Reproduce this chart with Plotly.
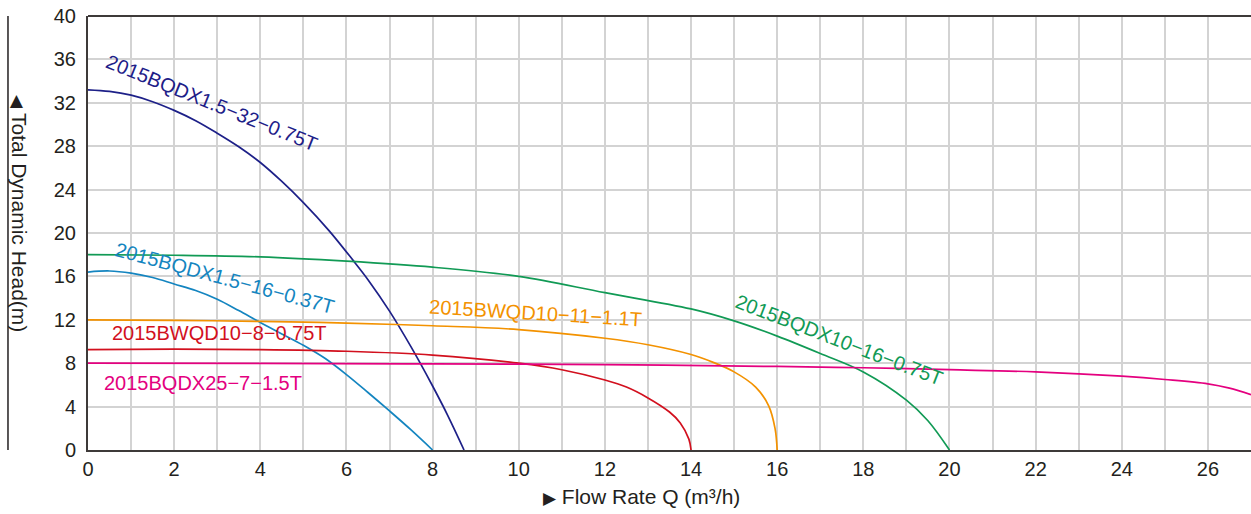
import plotly.graph_objects as go

# ---- data ----
q_bqdx15_32 = [0, 0.5, 1, 1.5, 2, 2.5, 3, 3.5, 4, 4.5, 5, 5.6, 6.15, 6.5, 7.0, 7.5, 8.0, 8.35, 8.73]
h_bqdx15_32 = [33.2, 33.05, 32.7, 32.1, 31.3, 30.35, 29.2, 27.95, 26.5, 24.75, 22.8, 20.2, 17.5, 15.7, 12.8, 9.5, 5.9, 3.2, 0]

q_bqdx15_16 = [0, 0.5, 1, 1.5, 2, 2.5, 3, 3.5, 4, 4.5, 5, 5.5, 6, 6.5, 7, 7.5, 8]
h_bqdx15_16 = [16.4, 16.5, 16.3, 15.9, 15.3, 14.7, 13.9, 12.85, 11.75, 10.7, 9.65, 8.45, 6.95, 5.3, 3.6, 1.85, 0]

q_bqdx10_16 = [0, 2, 4, 6, 8, 10, 12, 14, 15, 16, 17, 18, 19, 19.5, 20]
h_bqdx10_16 = [18.0, 17.95, 17.8, 17.4, 16.85, 16.0, 14.5, 13.0, 11.9, 10.5, 8.9, 7.2, 4.6, 2.7, 0]

q_bwqd10_11 = [0, 2, 4, 6, 8, 10, 12, 13, 14, 14.5, 15, 15.5, 15.8, 15.95, 16]
h_bwqd10_11 = [12.0, 11.95, 11.85, 11.7, 11.45, 11.1, 10.3, 9.7, 8.8, 8.1, 7.2, 5.8, 4.1, 2.0, 0]

q_bwqd10_8 = [0, 2, 4, 6, 8, 10, 11, 12, 12.5, 13, 13.5, 13.75, 13.95, 14]
h_bwqd10_8 = [9.25, 9.3, 9.25, 9.1, 8.75, 8.0, 7.4, 6.45, 5.8, 4.8, 3.5, 2.5, 1.0, 0]

q_bqdx25_7 = [0, 4, 8, 12, 16, 18, 20, 22, 24, 25, 26, 26.5, 27]
h_bqdx25_7 = [8.0, 7.98, 7.93, 7.87, 7.7, 7.58, 7.4, 7.2, 6.8, 6.5, 6.1, 5.7, 5.1]

names = ["2015BQDX1.5−32−0.75T", "2015BQDX1.5−16−0.37T", "2015BQDX10−16−0.75T",
         "2015BWQD10−11−1.1T", "2015BWQD10−8−0.75T", "2015BQDX25−7−1.5T"]
colors = ["#1d2088", "#1485c0", "#119a55", "#f39200", "#d2101e", "#e4007f"]

x_ticks = list(range(0, 27, 2))
y_ticks = list(range(0, 41, 4))

series = [(q_bqdx15_32, h_bqdx15_32), (q_bqdx15_16, h_bqdx15_16), (q_bqdx10_16, h_bqdx10_16),
          (q_bwqd10_11, h_bwqd10_11), (q_bwqd10_8, h_bwqd10_8), (q_bqdx25_7, h_bqdx25_7)]

# label placement (data coords) and angle
label_pos = [(2.89, 32.0, 22), (3.17, 15.85, 15), (17.44, 10.1, 21),
             (10.38, 12.6, 3.5), (3.05, 10.78, 0), (2.66, 6.18, 0)]

fig = go.Figure()
for (q, h), name, c in zip(series, names, colors):
    fig.add_trace(go.Scatter(x=q, y=h, mode="lines", name=name,
                             line=dict(color=c, width=1.7, shape="spline", smoothing=1.0),
                             hoverinfo="skip", showlegend=False))

for (x, y, ang), name, c in zip(label_pos, names, colors):
    fig.add_annotation(x=x, y=y, xref="x", yref="y", text=name, showarrow=False,
                       textangle=ang, font=dict(family="Arial", size=20, color=c))

axis_col = "#3e3a39"
fig.update_layout(
    width=1251, height=514,
    margin=dict(l=88, r=0, t=16, b=64, autoexpand=False),
    paper_bgcolor="white", plot_bgcolor="white",
    xaxis=dict(range=[0, 27], tickvals=x_ticks, showgrid=True, gridcolor="#d3d3d3", gridwidth=1.5,
               minor=dict(dtick=1, showgrid=True, gridcolor="#d3d3d3", gridwidth=1.5),
               showline=True, linecolor=axis_col, linewidth=2, zeroline=False, ticks="",
               automargin=False, ticklabeloverflow="allow",
               tickfont=dict(family="Arial", size=20, color="#231f20")),
    yaxis=dict(range=[0, 40], tickvals=y_ticks, showgrid=True, gridcolor="#d3d3d3", gridwidth=1.5,
               showline=True, linecolor=axis_col, linewidth=2, zeroline=False, ticks="",
               automargin=False, ticklabelstandoff=6, ticklabeloverflow="allow",
               tickfont=dict(family="Arial", size=20, color="#231f20")),
)

# top border
fig.add_shape(type="line", xref="paper", yref="paper", x0=0, x1=1, y0=1, y1=1,
              line=dict(color=axis_col, width=2))
# vertical bar beside y title
fig.add_shape(type="line", xref="paper", yref="paper", x0=-0.0688, x1=-0.0688, y0=0, y1=1,
              line=dict(color="#231f20", width=1.5))

fig.add_annotation(x=-0.0585, y=0.545, xref="paper", yref="paper", xanchor="center", yanchor="middle",
                   text="<span style='font-size:17px'>◀</span> Total Dynamic Head(m)", showarrow=False,
                   textangle=90, font=dict(family="Arial", size=21, color="#231f20"))
fig.add_annotation(x=0.476, y=-0.108, xref="paper", yref="paper", xanchor="center", yanchor="middle",
                   text="<span style='font-size:17px'>▶</span> Flow Rate Q (m³/h)", showarrow=False,
                   font=dict(family="Arial", size=21, color="#231f20"))

fig.write_html("out.html", config={"displayModeBar": False},
               post_script="document.body.style.margin='0';document.body.style.overflow='hidden';")
